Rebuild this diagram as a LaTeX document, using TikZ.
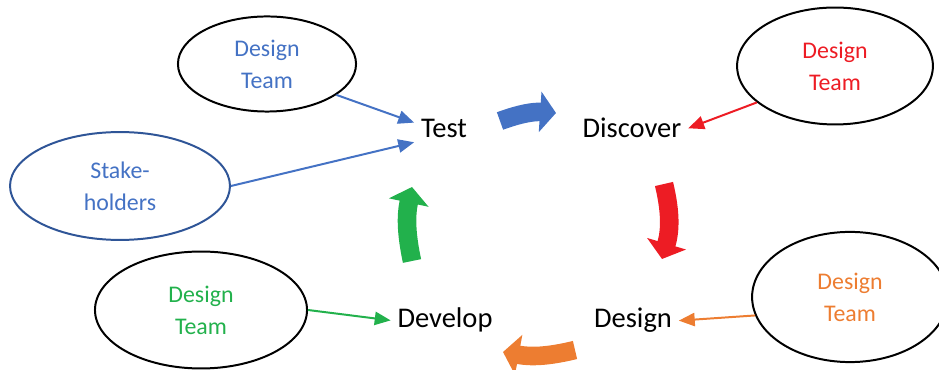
\documentclass[tikz,border=0pt]{standalone}
\usepackage{fontspec}
\setmainfont{Carlito}
\usetikzlibrary{arrows.meta,shapes.geometric}
\definecolor{cblue}{HTML}{4472C4}
\definecolor{cnavy}{HTML}{2F5597}
\definecolor{cred}{HTML}{ED1C24}
\definecolor{corange}{HTML}{ED7D31}
\definecolor{cgreen}{HTML}{22B14C}
\tikzset{
  every picture/.style={line join=round, >=Triangle},
  bubble/.style={ellipse, draw, line width=1.5pt, inner sep=0pt, align=center, font=\fontsize{18}{24}\selectfont},
  word/.style={anchor=base, inner sep=5pt, font=\fontsize{21.5}{26}\selectfont},
  feed/.style={line width=1.5pt, -{Triangle[length=12pt,width=10pt]}},
  turn/.style={line width=14pt, -{Triangle[length=12pt,width=30pt]}},
}

\begin{document}
\begin{tikzpicture}[x=0.0265cm,y=0.0265cm]
\useasboundingbox (0,0) rectangle (939,370);
% stages
\node[word] (test) at (444,232) {Test};
\node[word] (discover) at (632,232) {Discover};
\node[word] (design) at (633,42) {Design};
\node[word] (develop) at (445,42) {Develop};
% who takes part
\node[bubble, minimum width=4.72cm, minimum height=2.52cm, text=cblue] (team1) at (267,306) {Design\\Team};
\node[bubble, draw=cnavy, minimum width=5.83cm, minimum height=2.86cm, text=cblue] (stake) at (120,184) {Stake-\\holders};
\node[bubble, minimum width=5.19cm, minimum height=3.10cm, text=cred] (team2) at (835,304) {Design\\Team};
\node[bubble, minimum width=5.19cm, minimum height=3.45cm, text=corange] (team3) at (850,73) {Design\\Team};
\node[bubble, minimum width=5.62cm, minimum height=3.10cm, text=cgreen] (team4) at (201,60) {Design\\Team};
\draw[feed, cblue] (team1.-24) -- (test.168);
\draw[feed, cblue] (stake.east) -- (test.204);
\draw[feed, cred] (team2.205) -- (discover.east);
\draw[feed, corange] (team3.191) -- (design.east);
\draw[feed, cgreen] (team4.east) -- (develop.west);
% cycle arrows
\coordinate (b1) at (500,249);
\coordinate (b2) at (556,257);
\coordinate (r1) at (664,186);
\coordinate (r2) at (662,111);
\coordinate (o1) at (575,20);
\coordinate (o2) at (503,18);
\coordinate (g1) at (412,109);
\coordinate (g2) at (412,183);
\draw[turn, cblue] (b1) to[bend left=12] (b2);
\draw[turn, cred] (r1) to[bend left=15] (r2);
\draw[turn, corange] (o1) to[bend left=12] (o2);
\draw[turn, cgreen] (g1) to[bend left=12] (g2);
\end{tikzpicture}
\end{document}
